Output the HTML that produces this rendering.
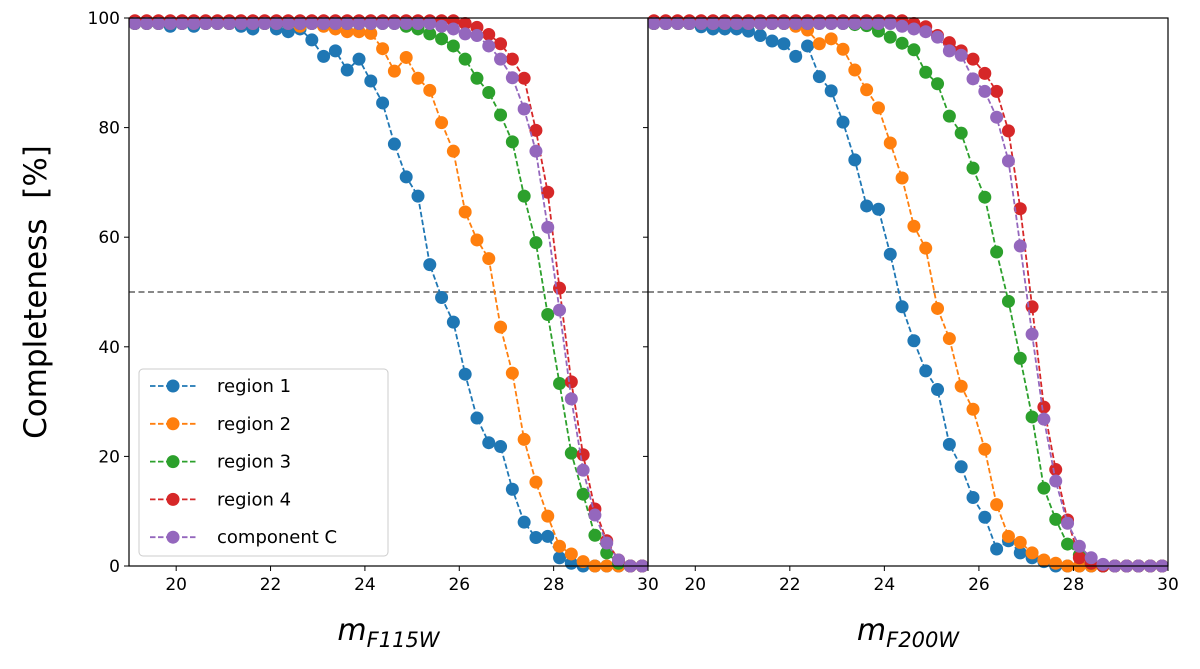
<!DOCTYPE html>
<html><head><meta charset="utf-8"><style>
body{margin:0;background:#fff;}
svg{display:block;font-family:"DejaVu Sans","Liberation Sans",sans-serif;}
</style></head><body>
<svg id="chart" width="1200" height="669" viewBox="0 0 1200 669" xmlns="http://www.w3.org/2000/svg"></svg>
<script>
const mags = [19.125,19.375,19.625,19.875,20.125,20.375,20.625,20.875,21.125,21.375,21.625,21.875,22.125,22.375,22.625,22.875,23.125,23.375,23.625,23.875,24.125,24.375,24.625,24.875,25.125,25.375,25.625,25.875,26.125,26.375,26.625,26.875,27.125,27.375,27.625,27.875,28.125,28.375,28.625,28.875,29.125,29.375,29.625,29.875];
const xTicks = [20,22,24,26,28,30];
const yTicks = [0,20,40,60,80,100];
const seriesNames = ["region 1","region 2","region 3","region 4","component C"];
const colors = ["#1f77b4","#ff7f0e","#2ca02c","#d62728","#9467bd"];
const leftR1 = [99,99,99,98.5,99,98.5,99,99,99,98.5,98,99,98,97.5,98,96,93,94,90.5,92.5,88.5,84.5,77,71,67.5,55,49,44.5,35,27,22.5,21.8,14,8,5.2,5.4,1.5,0.5,0,0,0,0,0,0];
const leftR2 = [99,99,99,99,99,99,99,99,99,99,99,99,99,99,98.5,99,98.5,98,97.5,97.5,97.2,94.4,90.3,92.8,89,86.8,80.9,75.7,64.6,59.5,56.1,43.6,35.2,23.1,15.3,9.1,3.6,2.2,0.8,0,0,0,0,0];
const leftR3 = [99,99,99,99,99,99,99,99,99,99,99,99,99,99,99,99,99,99,99,99,99,99,99,98.5,98,97.1,96.2,94.9,92.5,89,86.4,82.3,77.4,67.5,59,45.9,33.3,20.6,13.1,5.6,2.4,0.5,0,0];
const leftR4 = [99.5,99.5,99.5,99.5,99.5,99.5,99.5,99.5,99.5,99.5,99.5,99.5,99.5,99.5,99.5,99.5,99.5,99.5,99.5,99.5,99.5,99.5,99.5,99.5,99.5,99.5,99.5,99.5,99,98.3,97,95.3,92.5,89,79.5,68.2,50.7,33.6,20.3,10.4,4.6,1.1,0,0];
const leftC = [99,99,99,99,99,99,99,99,99,99,99,99,99,99,99,99,99,99,99,99,99,99,99,99,99,99,98.5,98,97.1,96.8,94.9,92.5,89.1,83.4,75.7,61.8,46.7,30.5,17.5,9.3,4.2,1.1,0,0];
const rightR1 = [99,99,99,99,98.4,98,98,98,97.6,96.8,95.8,95.3,93,94.9,89.3,86.7,81,74.1,65.7,65.1,56.9,47.3,41.1,35.6,32.2,22.2,18.1,12.5,8.9,3.1,4.6,2.4,1.5,0.8,0,0,0,0,0,0,0,0,0,0];
const rightR2 = [99,99,99,99,99,99,99,99,99,99,99,99,98.5,97.8,95.3,96.2,94.3,90.5,86.9,83.6,77.2,70.8,62,58,47,41.5,32.8,28.6,21.3,11.2,5.4,4.3,2.4,1.1,0.5,0,0,0,0,0,0,0,0,0];
const rightR3 = [99,99,99,99,99,99,99,99,99,99,99,99,99,99,99,99,99,98.8,98.6,97.6,96.5,95.4,94.2,90.1,88,82.1,79,72.6,67.3,57.3,48.3,37.9,27.2,14.2,8.5,4,2,0.5,0,0,0,0,0,0];
const rightR4 = [99.5,99.5,99.5,99.5,99.5,99.5,99.5,99.5,99.5,99.5,99.5,99.5,99.5,99.5,99.5,99.5,99.5,99.5,99.5,99.5,99.5,99.5,99,98.4,96.8,95.5,94,92.5,89.9,86.6,79.4,65.2,47.3,29,17.6,8.4,1.5,0.5,0,0,0,0,0,0];
const rightC = [99,99,99,99,99,99,99,99,99,99,99,99,99,99,99,99,99,99,99,99,99,98.5,98,97.5,96.5,94,93.2,88.9,86.6,81.9,73.9,58.4,42.3,26.8,15.5,7.8,3.6,1.5,0.3,0,0,0,0,0];
const leftSeries=[leftR1,leftR2,leftR3,leftR4,leftC];
const rightSeries=[rightR1,rightR2,rightR3,rightR4,rightC];

const NS="http://www.w3.org/2000/svg";
const svg=document.getElementById('chart');
function mk(tag,attrs,parent){const e=document.createElementNS(NS,tag);for(const k in attrs)e.setAttribute(k,attrs[k]);(parent||svg).appendChild(e);return e;}
const yTop=18,yBot=566,xmin=19,xmax=30;
const yS=v=>yBot-(v/100)*(yBot-yTop);
const panels=[{x0:129,x1:648,series:leftSeries,sub:"F115W",name:"left"},{x0:648,x1:1168,series:rightSeries,sub:"F200W",name:"right"}];
panels.forEach((p,pi)=>{
  const xS=m=>p.x0+(m-xmin)/(xmax-xmin)*(p.x1-p.x0);
  const g=mk('g',{});
  
  
  const cp=mk('clipPath',{id:'cp'+pi},g);
  mk('rect',{x:p.x0,y:yTop-8,width:p.x1-p.x0,height:yBot-yTop+16},cp);
  const h=mk('line',{x1:p.x0,x2:p.x1,y1:yS(50),y2:yS(50),stroke:'#777','stroke-width':1.8,'stroke-dasharray':'6,3.5'},g);
  
  
  p.series.forEach((vals,si)=>{
    const sg=mk('g',{'clip-path':'url(#cp'+pi+')'},g);
    
    
    const pts=vals.map((v,i)=>xS(mags[i]).toFixed(1)+','+yS(v).toFixed(1)).join(' ');
    mk('polyline',{points:pts,fill:'none',stroke:colors[si],'stroke-width':1.8,'stroke-dasharray':'5.5,2.5'},sg);
    vals.forEach((v,i)=>{
      const c=mk('circle',{cx:xS(mags[i]),cy:yS(v),r:6.5,fill:colors[si]},sg);
      
      
    });
  });
  const fr=mk('rect',{x:p.x0,y:yTop,width:p.x1-p.x0,height:yBot-yTop,fill:'none',stroke:'#000','stroke-width':1.2},g);
  
  
  xTicks.forEach(t=>{
    const x=xS(t);
    mk('line',{x1:x,x2:x,y1:yBot,y2:yBot+5,stroke:'#000','stroke-width':1},g);
    const tl=mk('text',{x:x,y:yBot+24,'font-size':17,'text-anchor':'middle',fill:'#000'},g);
    tl.textContent=t;
    
    
  });
  yTicks.forEach(t=>{
    const y=yS(t);
    mk('line',{x1:p.x0-5,x2:p.x0,y1:y,y2:y,stroke:'#000','stroke-width':1},g);
    if(pi===0){
      const tl=mk('text',{x:p.x0-9,y:y+6,'font-size':17,'text-anchor':'end',fill:'#000'},g);
      tl.textContent=t;
      
      
    }
  });
  const xl=mk('text',{x:(p.x0+p.x1)/2,y:640,'font-size':30,'text-anchor':'middle','font-style':'italic',fill:'#000'},g);
  
  
  xl.textContent='m';
  const sub=mk('tspan',{'font-size':21,dy:7},xl);
  sub.textContent=p.sub;
});
const yl=mk('text',{x:0,y:0,'font-size':31,'text-anchor':'middle',fill:'#000',transform:'translate(46,292) rotate(-90)'});
yl.textContent='Completeness\u00a0 [%]';


const lg=mk('g',{});


mk('rect',{x:139,y:369,width:249,height:187,rx:4,fill:'#fff','fill-opacity':0.8,stroke:'#ccc','stroke-width':1},lg);
seriesNames.forEach((n,i)=>{
  const y=386+i*37.8;
  const e=mk('g',{},lg);
  
  
  mk('line',{x1:150,x2:196,y1:y,y2:y,stroke:colors[i],'stroke-width':1.8,'stroke-dasharray':'5.5,2.5'},e);
  mk('circle',{cx:173,cy:y,r:6.5,fill:colors[i]},e);
  const t=mk('text',{x:217,y:y+6,'font-size':18,fill:'#000'},e);
  t.textContent=n;
});
</script>
</body></html>
